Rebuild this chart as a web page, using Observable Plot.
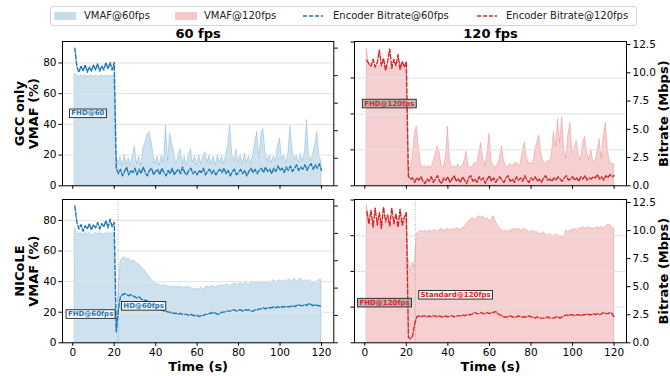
<!DOCTYPE html>
<html><head><meta charset="utf-8">
<script src="https://cdn.jsdelivr.net/npm/d3@7"></script>
<script src="https://cdn.jsdelivr.net/npm/@observablehq/plot@0.6"></script>
<style>
body{margin:0;background:#fff;}
#root{position:relative;width:670px;height:376px;overflow:hidden;font-family:"DejaVu Sans",sans-serif;background:#fff;}
#root svg{position:absolute;left:0;top:0;}
#legend{position:absolute;left:50px;top:6px;width:587px;height:20px;border:1px solid #d4d4d4;border-radius:3px;box-sizing:border-box;font-size:10px;color:#222;background:#fff;}
#legend .sw{position:absolute;top:4px;}
#legend .lb{position:absolute;top:2px;line-height:14px;white-space:nowrap;}
</style></head><body><div id="root"><div id="legend"></div></div>
<script>
// ---- data ----
const time = Array.from({length: 120}, (_, i) => i + 1); // seconds
const xTicks = [0, 20, 40, 60, 80, 100, 120];
const vmafTicks = [0, 20, 40, 60, 80];
const brTicks = [0, 2.5, 5, 7.5, 10, 12.5];
const seriesNames = ["VMAF@60fps", "VMAF@120fps", "Encoder Bitrate@60fps", "Encoder Bitrate@120fps"];
const colTitles = ["60 fps", "120 fps"];
const rowLabels = ["GCC only\nVMAF (%)", "NICoLE\nVMAF (%)"];
const yRightLabel = "Bitrate (Mbps)";
const xLabel = "Time (s)";

const vmafGcc60 = [
  73,72,71,72,71,72,71,71,72,71,
  72,71,71,72,71,72,71,72,71,72,
  21,14,19,13,20,14,18,13,20,26,
  14,19,13,24,28,33,35,29,20,14,
  19,13,20,15,40,16,34,27,21,14,
  19,24,14,19,13,20,24,15,19,13,
  20,14,19,22,15,20,14,19,13,20,
  15,19,14,20,27,39,20,16,24,15,
  20,14,21,15,19,14,20,28,35,18,
  34,37,22,16,20,15,19,16,26,31,
  17,20,15,21,39,24,17,20,15,21,
  16,22,43,20,16,21,27,35,19,16];
const brGcc60 = [
  12.5,10.8,10.3,10.9,10.4,11.0,10.3,10.8,10.4,11.0,
  10.5,11.1,10.4,10.9,10.5,11.2,10.6,11.2,10.5,11.2,
  1.6,1.1,1.5,0.9,1.3,1.7,1.0,1.4,1.2,1.6,
  1.0,1.5,1.1,1.7,1.2,0.9,1.4,1.6,1.0,1.3,
  1.5,1.0,1.6,1.2,0.9,1.4,1.1,1.6,1.0,1.3,
  1.5,1.1,1.7,1.2,1.0,1.4,1.6,1.1,1.3,1.0,
  1.4,1.2,1.6,1.0,1.3,1.5,1.1,1.4,1.0,1.3,
  1.5,1.2,1.6,1.1,1.4,0.9,1.3,1.5,1.0,1.2,
  1.5,1.1,1.4,0.9,1.3,1.6,1.2,1.5,1.1,1.4,
  1.6,1.2,1.7,1.3,1.5,1.1,1.6,1.3,1.8,1.4,
  1.6,1.2,1.7,1.4,1.8,1.3,1.6,1.9,1.4,1.7,
  1.5,1.9,1.4,1.8,2.0,1.5,1.9,1.6,2.0,1.4];
const vmafGcc120 = [
  76,68,66,67,65,66,67,65,66,68,
  66,65,67,66,65,66,68,66,65,67,
  10,10,15,28,33,22,12,10,11,10,
  11,10,13,17,22,19,11,10,16,33,
  14,10,11,10,12,10,11,14,19,11,
  10,11,13,12,18,24,15,11,18,29,
  14,11,10,12,15,22,14,11,10,12,
  11,12,13,11,12,19,24,16,12,13,
  12,20,24,28,18,13,12,14,13,17,
  30,22,37,24,38,20,15,29,35,18,
  21,25,17,14,24,27,19,14,20,13,
  14,19,26,15,28,35,20,13,12,12];
const brGcc120 = [
  11.1,10.8,10.6,11.2,10.5,10.9,12.0,10.6,11.3,10.2,
  11.0,12.1,10.4,11.2,10.6,11.6,10.3,11.0,10.5,11.0,
  0.8,0.6,0.7,0.3,0.7,0.5,0.8,0.4,0.2,0.6,
  0.4,0.8,0.3,0.6,0.9,0.4,0.2,0.7,0.5,0.8,
  0.3,0.6,0.9,0.4,0.6,0.3,0.8,0.5,0.2,0.7,
  0.9,0.4,0.6,0.3,0.8,0.5,0.7,0.2,0.6,0.9,
  0.4,0.7,0.3,0.6,0.8,0.5,0.3,0.7,0.9,0.4,
  0.6,0.3,0.8,0.5,0.7,0.4,0.9,0.5,0.3,0.7,
  0.5,0.8,0.4,0.6,0.3,0.7,0.9,0.5,0.6,0.4,
  0.7,0.5,0.8,0.6,0.4,0.7,0.9,0.5,0.6,0.8,
  0.5,0.7,0.4,0.8,0.6,0.9,0.5,0.7,0.6,0.8,
  0.7,1.0,0.6,0.8,0.5,0.9,0.7,1.0,0.8,0.9];
const vmafNic60 = [
  75,72,71,72,70,72,71,72,71,70,
  72,71,72,71,71,72,71,72,71,72,
  8,30,53,55,56,54,55,53,54,53,
  52,51,50,48,47,45,43,41,40,39,
  38,38,37,38,37,37,36,37,36,37,
  36,37,36,36,37,36,36,35,35,35,
  35,36,35,36,37,36,37,37,36,37,
  37,38,37,38,38,37,38,39,38,38,
  39,38,39,39,38,39,40,39,39,40,
  39,40,40,39,40,40,41,40,40,41,
  40,41,40,41,41,40,42,40,41,42,
  40,41,40,41,40,39,40,40,41,41];
const brNic60 = [
  12.5,11.0,10.4,10.8,10.2,10.7,10.4,10.9,10.3,10.8,
  10.5,11.0,10.4,10.9,10.6,11.2,10.5,11.3,10.6,11.0,
  1.0,3.0,4.2,4.4,4.5,4.4,4.3,4.4,4.3,4.2,
  4.1,4.2,4.0,3.9,3.9,3.8,3.6,3.5,3.3,3.2,
  3.1,3.0,3.0,2.9,2.9,2.8,2.8,2.7,2.7,2.7,
  2.6,2.7,2.6,2.6,2.6,2.5,2.6,2.5,2.5,2.5,
  2.4,2.5,2.5,2.6,2.6,2.7,2.7,2.8,2.7,2.6,
  2.7,2.8,2.8,2.9,2.9,2.9,3.0,3.0,2.9,3.0,
  3.0,2.9,3.0,3.0,3.0,2.9,2.9,3.0,3.0,3.1,
  3.1,3.2,3.1,3.2,3.2,3.2,3.3,3.2,3.3,3.2,
  3.3,3.3,3.3,3.3,3.3,3.4,3.3,3.4,3.5,3.4,
  3.4,3.5,3.4,3.6,3.5,3.4,3.5,3.4,3.4,3.3];
const vmafNic120 = [
  77,70,66,68,65,69,66,70,65,68,
  67,70,65,69,66,68,67,70,66,73,
  47,40,45,42,61,62,63,62,63,62,
  63,62,63,63,62,63,64,63,63,64,
  63,64,63,64,64,63,64,65,66,68,
  69,70,69,70,71,70,71,69,70,68,
  69,71,68,66,64,63,62,63,62,63,
  63,64,63,64,63,63,64,63,62,62,
  63,62,62,61,61,62,61,60,61,60,
  60,61,60,60,59,60,63,62,63,63,
  64,63,64,64,65,64,64,65,64,64,
  64,65,64,65,64,65,66,66,65,64];
const brNic120 = [
  11.7,10.6,11.8,10.3,12.0,10.5,11.6,10.2,12.1,10.8,
  11.4,10.4,12.0,10.6,11.5,10.3,11.9,10.5,11.2,11.6,
  0.5,0.35,0.6,1.7,2.3,2.4,2.3,2.4,2.4,2.3,
  2.4,2.3,2.4,2.4,2.3,2.4,2.3,2.3,2.4,2.3,
  2.4,2.4,2.3,2.4,2.4,2.4,2.5,2.4,2.5,2.5,
  2.5,2.6,2.7,2.6,2.6,2.7,2.6,2.6,2.7,2.6,
  2.7,2.7,2.8,2.6,2.5,2.4,2.3,2.3,2.3,2.4,
  2.3,2.3,2.3,2.4,2.3,2.3,2.3,2.3,2.4,2.3,
  2.3,2.2,2.3,2.2,2.2,2.2,2.2,2.3,2.2,2.2,
  2.2,2.3,2.3,2.2,2.3,2.4,2.5,2.4,2.5,2.5,
  2.4,2.5,2.5,2.4,2.5,2.5,2.6,2.5,2.5,2.6,
  2.5,2.6,2.5,2.6,2.7,2.6,2.6,2.7,2.6,2.3];

// annotations: time (s) and bitrate-axis value of the label centre
const annoGcc60 = [{t: 7.3, br: 6.6, label: "FHD@60"}];
const annoGcc120 = [{t: 11.8, br: 7.3, label: "FHD@120fps"}];
const annoNic60 = [{t: 8.6, br: 2.65, label: "FHD@60fps"}, {t: 34.2, br: 3.4, label: "HD@60fps"}];
const annoNic120 = [{t: 9.5, br: 3.6, label: "FHD@120fps"}, {t: 43.7, br: 4.3, label: "Standard@120fps"}];
const switchNic60 = [21.9];
const switchNic120 = [24.3];

// ---- styling ----
const BLUE = "#1f77b4", RED = "#d62728";
const BLUE_FILL = "#c7ddec", RED_FILL = "#f5c9c9";
const root = document.getElementById("root");

// legend
const legend = document.getElementById("legend");
const legendItems = [
  {name: seriesNames[0], kind: "patch", color: BLUE_FILL, sx: 3, tx: 33},
  {name: seriesNames[1], kind: "patch", color: RED_FILL, sx: 124, tx: 153},
  {name: seriesNames[2], kind: "dash", color: BLUE, sx: 252, tx: 282},
  {name: seriesNames[3], kind: "dash", color: RED, sx: 426, tx: 455}
];
for (const it of legendItems) {
  const sw = document.createElementNS("http://www.w3.org/2000/svg", "svg");
  sw.setAttribute("class", "sw");
  sw.setAttribute("width", 22); sw.setAttribute("height", 10);
  sw.style.left = it.sx + "px"; sw.style.position = "absolute";
  if (it.kind === "patch") {
    sw.innerHTML = `<rect x="0" y="1" width="22" height="8" fill="${it.color}"/>`;
  } else {
    sw.innerHTML = `<line x1="0" x2="20" y1="5" y2="5" stroke="${it.color}" stroke-width="1.5" stroke-dasharray="4,2"/>`;
  }
  legend.appendChild(sw);
  const lb = document.createElement("div");
  lb.className = "lb"; lb.style.left = it.tx + "px"; lb.textContent = it.name;
  legend.appendChild(lb);
}

const panels = [
  {row: 0, col: 0, vmaf: vmafGcc60, br: brGcc60, color: BLUE, vmafMax: 94, brMax: 13.1, anno: annoGcc60, sw: null},
  {row: 0, col: 1, vmaf: vmafGcc120, br: brGcc120, color: RED, vmafMax: 80.3, brMax: 12.77, anno: annoGcc120, sw: null},
  {row: 1, col: 0, vmaf: vmafNic60, br: brNic60, color: BLUE, vmafMax: 93.7, brMax: 13.1, anno: annoNic60, sw: switchNic60},
  {row: 1, col: 1, vmaf: vmafNic120, br: brNic120, color: RED, vmafMax: 80.3, brMax: 12.77, anno: annoNic120, sw: switchNic120}
];

const font = "DejaVu Sans, sans-serif";
for (const p of panels) {
  const [x0, x1] = p.col === 0 ? [62, 333.3] : [354, 626];
  const [y0, y1] = p.row === 0 ? [41, 185.3] : [199, 342.3];
  const base = {
    width: 670, height: 376,
    marginLeft: x0, marginRight: 670 - x1, marginTop: y0, marginBottom: 376 - y1,
    style: {background: "transparent", fontFamily: font, fontSize: "10.5px", color: "#000", overflow: "visible"}
  };
  const data = time.map((t, i) => ({t, v: p.vmaf[i], b: p.br[i]}));
  const A = Plot.plot({
    ...base,
    x: {domain: [-4.95, 125.95]},
    y: {domain: [0, p.vmafMax]},
    marks: [
      Plot.areaY(data, {x: "t", y: "v", fill: p.color, fillOpacity: 0.22, stroke: p.color, strokeOpacity: 0.22, strokeWidth: 1}),
      Plot.gridY({ticks: vmafTicks.filter(v => v > 0 && v < p.vmafMax - 1), stroke: "#e2e2e2", strokeOpacity: 1, strokeWidth: 1}),
      p.sw ? Plot.ruleX(p.sw, {stroke: "#999", strokeWidth: 0.8, strokeDasharray: "1,1.5"}) : null,
      Plot.frame({stroke: "#000", strokeWidth: 1}),
      Plot.axisY({ticks: vmafTicks, anchor: "left", tickSize: 3.5, tickPadding: 2.5, label: null,
        tickFormat: p.col === 0 ? (d => String(d)) : (() => ""), stroke: "#000", fill: "#000"}),
      Plot.axisX({ticks: xTicks, anchor: "bottom", tickSize: 3.5, tickPadding: 2.5, label: null,
        tickFormat: p.row === 1 ? (d => String(d)) : (() => ""), stroke: "#000", fill: "#000"}),
      p.col === 0 ? Plot.text([rowLabels[p.row]], {text: d => d, frameAnchor: "left", textAnchor: "middle", rotate: -90, dx: -36,
        fontWeight: "bold", fontSize: 13, lineHeight: 1.1, fill: "#000"}) : null,
      p.row === 0 ? Plot.text([colTitles[p.col]], {text: d => d, frameAnchor: "top", dy: -4, lineAnchor: "bottom",
        fontWeight: "bold", fontSize: 13, fill: "#000"}) : null,
      p.row === 1 ? Plot.text([xLabel], {text: d => d, frameAnchor: "bottom", dy: 24, lineAnchor: "middle",
        fontWeight: "bold", fontSize: 13, fill: "#000"}) : null
    ]
  });
  root.appendChild(A);
  const B = Plot.plot({
    ...base,
    x: {domain: [-4.95, 125.95], axis: null},
    y: {domain: [0, p.brMax]},
    marks: [
      Plot.lineY(data, {x: "t", y: "b", stroke: p.color, strokeWidth: 1.4, strokeDasharray: "4.5,2"}),
      Plot.axisY({ticks: brTicks, anchor: "right", tickSize: 3.5, tickPadding: 2.5, label: null,
        tickFormat: p.col === 1 ? d3.format(".1f") : (() => ""), stroke: "#000", fill: "#000"}),
      p.col === 1 ? Plot.text([yRightLabel], {text: d => d, frameAnchor: "right", textAnchor: "middle", rotate: -90, dx: 37,
        fontWeight: "bold", fontSize: 13, fill: "#000"}) : null,
      Plot.text(p.anno, {x: "t", y: "br", text: "label", fill: p.color, fontWeight: "bold", fontSize: 7})
    ]
  });
  root.appendChild(B);
  // boxes behind annotation labels
  const labels = new Set(p.anno.map(a => a.label));
  Array.from(B.querySelectorAll("text")).filter(tx => labels.has(tx.textContent)).forEach(tx => {
    const bb = tx.getBBox();
    const r = document.createElementNS("http://www.w3.org/2000/svg", "rect");
    r.setAttribute("x", bb.x - 1.8); r.setAttribute("y", bb.y - 0.3);
    r.setAttribute("width", bb.width + 3.6); r.setAttribute("height", bb.height + 0.6);
    const tr = tx.getAttribute("transform"); if (tr) r.setAttribute("transform", tr);
    const gray = p.color === RED && tx.textContent.startsWith("FHD");
    r.setAttribute("fill", gray ? "#a8a8a8" : "#ffffff");
    r.setAttribute("fill-opacity", 0.75);
    r.setAttribute("stroke", "#222"); r.setAttribute("stroke-width", 0.9);
    tx.parentNode.insertBefore(r, tx);
  });
}
</script></body></html>
